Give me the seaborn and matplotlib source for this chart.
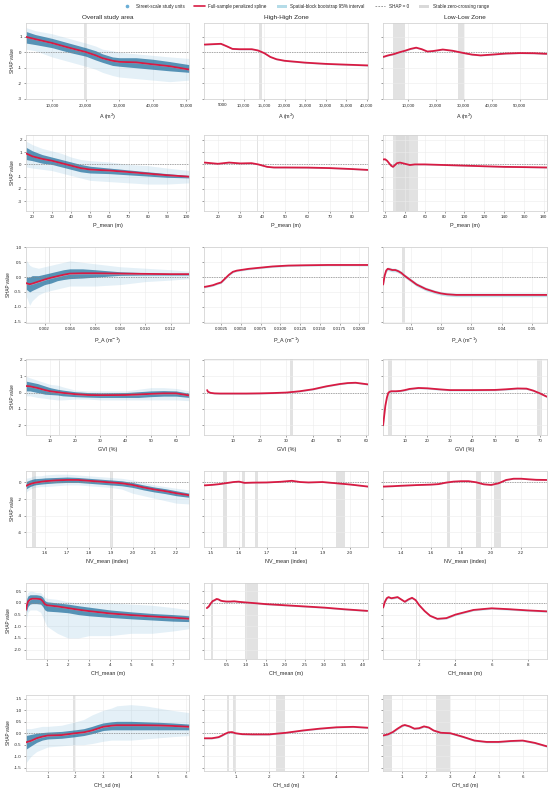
import seaborn as sns
import matplotlib.pyplot as plt
from matplotlib.lines import Line2D
from matplotlib.patches import Patch

# column titles and x labels
zones = ["Overall study area", "High-High Zone", "Low-Low Zone"]
xlabels = ["A (m$^2$)", "P_mean (m)", "P_A (m$^{-1}$)", "GVI (%)",
           "NV_mean (index)", "CH_mean (m)", "CH_sd (m)"]

# ---------------- A ----------------
a_all_x = [2200, 5000, 10000, 15000, 20000, 23000, 25000, 28000, 30000, 35000, 40000, 45000, 50900]
a_all_y = [1.0, 0.85, 0.6, 0.3, 0.02, -0.2, -0.38, -0.55, -0.62, -0.65, -0.78, -0.9, -1.12]
a_cloud_lo = [0.2, 0.1, -0.3, -0.6, -0.9, -1.1, -1.3, -1.5, -1.6, -1.7, -1.8, -1.9, -1.8]
a_core_lo = [0.6, 0.5, 0.3, 0.0, -0.25, -0.5, -0.65, -0.85, -0.9, -1.0, -1.1, -1.2, -1.3]
a_core_hi = [1.35, 1.15, 0.9, 0.6, 0.3, 0.1, -0.1, -0.3, -0.35, -0.35, -0.45, -0.6, -0.8]
a_cloud_hi = [1.6, 1.4, 1.2, 0.9, 0.6, 0.4, 0.2, 0.1, 0.0, -0.1, -0.2, -0.3, -0.4]
a_hh_x = [500, 2000, 4500, 6000, 7300, 9000, 12000, 13500, 15000, 16500, 18000, 20000, 25000, 30000, 35000, 40250]
a_hh_y = [0.5, 0.52, 0.55, 0.38, 0.22, 0.2, 0.2, 0.12, -0.05, -0.3, -0.45, -0.55, -0.67, -0.75, -0.8, -0.85]
a_ll_x = [1200, 3000, 5000, 7000, 9000, 11000, 13000, 15000, 17000, 19000, 22500, 26000, 30000,
          33000, 36000, 40000, 45000, 50000, 55000, 59600]
a_ll_y = [-0.3, -0.2, -0.12, 0.0, 0.1, 0.22, 0.3, 0.2, 0.05, 0.08, 0.18, 0.1, -0.05,
          -0.15, -0.2, -0.15, -0.08, -0.05, -0.06, -0.1]

# ---------------- P_mean ----------------
p_all_x = [16.5, 20, 25, 30, 35, 40, 45, 50, 60, 70, 80, 90, 101.7]
p_all_y = [0.9, 0.65, 0.45, 0.3, 0.1, -0.1, -0.3, -0.42, -0.5, -0.62, -0.75, -0.88, -1.0]
p_cloud_lo = [-0.2, -0.3, -0.4, -0.5, -0.7, -0.9, -1.1, -1.3, -1.4, -1.5, -1.6, -1.6, -1.5]
p_core_lo = [0.4, 0.3, 0.1, 0.0, -0.2, -0.4, -0.6, -0.7, -0.75, -0.85, -0.95, -1.05, -1.1]
p_core_hi = [1.4, 1.1, 0.8, 0.6, 0.4, 0.2, 0.0, -0.15, -0.3, -0.45, -0.6, -0.75, -0.9]
p_cloud_hi = [1.9, 1.6, 1.3, 1.1, 0.9, 0.6, 0.4, 0.3, 0.2, 0.0, -0.1, -0.3, -0.5]
p_hh_x = [14, 17, 20, 25, 30, 35, 38, 40, 42, 45, 50, 60, 70, 80, 87]
p_hh_y = [0.15, 0.1, 0.05, 0.15, 0.08, 0.1, 0.0, -0.1, -0.2, -0.25, -0.25, -0.26, -0.3, -0.38, -0.45]
p_ll_x = [18, 20, 22, 24, 26, 28, 30, 32, 35, 40, 45, 50, 60, 80, 100, 120, 140, 160, 183]
p_ll_y = [0.4, 0.42, 0.3, 0.1, -0.1, -0.2, -0.05, 0.1, 0.15, 0.05, -0.05, 0.0, 0.0, -0.05,
          -0.1, -0.15, -0.2, -0.22, -0.25]

# ---------------- P_A ----------------
pa_all_x = [0.0005, 0.0008, 0.001, 0.0015, 0.002, 0.0025, 0.003, 0.0035, 0.004, 0.005,
            0.006, 0.008, 0.010, 0.012, 0.0135]
pa_all_y = [-0.2, -0.24, -0.22, -0.15, -0.08, -0.02, 0.03, 0.08, 0.12, 0.13, 0.13, 0.12, 0.11, 0.1, 0.1]
pa_cloud_lo = [-0.6, -0.95, -0.8, -0.6, -0.5, -0.45, -0.4, -0.35, -0.3, -0.3, -0.3, -0.25, -0.15, -0.1, -0.05]
pa_core_lo = [-0.4, -0.5, -0.45, -0.35, -0.25, -0.2, -0.12, -0.08, -0.05, -0.03, 0.0, 0.06, 0.07, 0.07, 0.07]
pa_core_hi = [0.0, 0.0, 0.05, 0.05, 0.1, 0.15, 0.2, 0.25, 0.28, 0.28, 0.25, 0.18, 0.15, 0.13, 0.13]
pa_cloud_hi = [0.6, 0.4, 0.35, 0.3, 0.35, 0.4, 0.45, 0.5, 0.55, 0.5, 0.45, 0.35, 0.3, 0.25, 0.2]
pa_hh_x = [0.0004, 0.001, 0.0015, 0.002, 0.0025, 0.003, 0.0035, 0.004, 0.0045, 0.005, 0.006,
           0.0075, 0.009, 0.011, 0.013, 0.016, 0.0211]
pa_hh_y = [-0.33, -0.3, -0.27, -0.22, -0.18, -0.05, 0.08, 0.18, 0.22, 0.24, 0.28, 0.32, 0.36,
           0.39, 0.4, 0.41, 0.41]
pa_ll_x = [0.001, 0.0015, 0.002, 0.0025, 0.003, 0.004, 0.005, 0.006, 0.007, 0.008, 0.01, 0.012,
           0.015, 0.018, 0.02, 0.022, 0.025, 0.03, 0.04, 0.0547]
pa_ll_y = [-0.25, 0.05, 0.22, 0.28, 0.27, 0.24, 0.24, 0.2, 0.14, 0.05, -0.1, -0.25, -0.4, -0.5,
           -0.55, -0.58, -0.6, -0.6, -0.6, -0.6]

# ---------------- GVI ----------------
g_all_x = [0.4, 2, 5, 8, 10, 13, 15, 20, 25, 30, 40, 45, 50, 55, 60, 65.3]
g_all_y = [0.4, 0.38, 0.28, 0.15, 0.08, 0.02, -0.02, -0.1, -0.15, -0.16, -0.15, -0.12, -0.08, -0.05, -0.05, -0.18]
g_cloud_lo = [-0.2, -0.2, -0.3, -0.35, -0.4, -0.45, -0.45, -0.4, -0.4, -0.45, -0.45, -0.45, -0.45, -0.45, -0.45, -0.5]
g_core_lo = [0.1, 0.1, 0.0, -0.1, -0.12, -0.15, -0.2, -0.25, -0.28, -0.3, -0.3, -0.3, -0.25, -0.22, -0.22, -0.3]
g_core_hi = [0.7, 0.65, 0.55, 0.4, 0.3, 0.2, 0.15, 0.05, 0.0, -0.02, 0.0, 0.05, 0.1, 0.12, 0.1, -0.05]
g_cloud_hi = [1.0, 0.9, 0.75, 0.6, 0.5, 0.45, 0.35, 0.15, 0.1, 0.1, 0.1, 0.2, 0.3, 0.3, 0.25, 0.1]
g_hh_x = [0.2, 0.5, 1.5, 3, 5, 10, 15, 20, 25, 30, 35, 40, 45, 50, 53, 56, 60.7]
g_hh_y = [0.15, 0.05, -0.02, -0.05, -0.06, -0.06, -0.06, -0.05, -0.03, 0.0, 0.08, 0.2, 0.38, 0.52, 0.58, 0.6, 0.5]
g_ll_x = [0.3, 0.8, 1.3, 2, 2.6, 3.2, 4, 6, 8, 10, 12, 16, 20, 25, 30, 40, 50, 55, 60, 64, 67, 70, 73]
g_ll_y = [-2.0, -1.4, -0.8, -0.3, -0.02, 0.05, 0.08, 0.08, 0.1, 0.15, 0.22, 0.28, 0.26, 0.2, 0.15,
          0.15, 0.16, 0.2, 0.25, 0.24, 0.12, -0.05, -0.25]

# ---------------- NV_mean ----------------
n_all_x = [1.511, 1.53, 1.55, 1.58, 1.6, 1.65, 1.7, 1.75, 1.8, 1.85, 1.9, 1.95, 2.0, 2.05, 2.1, 2.15, 2.2, 2.261]
n_all_y = [-0.42, -0.2, -0.05, 0.08, 0.15, 0.25, 0.3, 0.3, 0.2, 0.1, 0.0, -0.1, -0.3, -0.6, -0.85, -1.05, -1.3, -1.55]
n_cloud_lo = [-1.2, -0.8, -0.6, -0.5, -0.5, -0.4, -0.3, -0.3, -0.4, -0.5, -0.6, -0.8, -1.3, -1.6, -1.9, -2.2, -2.5, -2.6]
n_core_lo = [-0.8, -0.5, -0.3, -0.2, -0.15, -0.05, 0.0, 0.0, -0.1, -0.2, -0.3, -0.4, -0.6, -0.9, -1.15, -1.35, -1.6, -1.8]
n_core_hi = [0.1, 0.3, 0.45, 0.5, 0.55, 0.6, 0.65, 0.6, 0.5, 0.4, 0.3, 0.2, 0.0, -0.3, -0.55, -0.75, -1.0, -1.3]
n_cloud_hi = [0.5, 0.6, 0.8, 0.8, 0.9, 1.0, 1.0, 0.9, 0.8, 0.7, 0.6, 0.5, 0.3, 0.0, -0.3, -0.5, -0.7, -0.9]
n_hh_x = [1.476, 1.5, 1.53, 1.55, 1.58, 1.6, 1.62, 1.65, 1.7, 1.75, 1.79, 1.82, 1.85, 1.9, 1.95, 2.0, 2.064]
n_hh_y = [-0.35, -0.3, -0.2, -0.1, 0.05, 0.1, -0.05, -0.02, 0.0, 0.08, 0.2, 0.05, 0.0, 0.05, -0.1, -0.25, -0.5]
n_ll_x = [1.281, 1.35, 1.4, 1.5, 1.6, 1.65, 1.7, 1.75, 1.8, 1.85, 1.9, 1.95, 2.0, 2.05, 2.1, 2.15,
          2.2, 2.25, 2.3, 2.37]
n_ll_y = [-0.5, -0.45, -0.4, -0.32, -0.26, -0.2, -0.02, 0.1, 0.15, 0.15, 0.02, -0.22, -0.3, -0.1,
          0.3, 0.45, 0.45, 0.38, 0.32, 0.3]

# ---------------- CH_mean ----------------
c_all_x = [0.0, 0.05, 0.1, 0.2, 0.3, 0.5, 0.7, 0.8, 0.9, 1.0, 1.5, 2, 2.5, 3, 4, 5, 6, 7, 7.78]
c_all_y = [-0.3, -0.1, 0.05, 0.15, 0.18, 0.18, 0.16, 0.08, -0.05, -0.1, -0.15, -0.22, -0.29, -0.35,
           -0.45, -0.52, -0.58, -0.63, -0.68]
c_cloud_lo = [-0.9, -0.6, -0.4, -0.3, -0.3, -0.3, -0.4, -0.6, -0.8, -1.0, -1.3, -1.5, -1.5, -1.4,
              -1.4, -1.3, -1.3, -1.2, -1.1]
c_core_lo = [-0.5, -0.3, -0.15, -0.05, -0.03, -0.03, -0.05, -0.15, -0.3, -0.35, -0.38, -0.42, -0.5,
             -0.55, -0.62, -0.68, -0.73, -0.78, -0.8]
c_core_hi = [0.0, 0.2, 0.3, 0.35, 0.35, 0.35, 0.32, 0.25, 0.1, 0.05, 0.0, -0.05, -0.12, -0.18,
             -0.3, -0.38, -0.45, -0.5, -0.55]
c_cloud_hi = [0.2, 0.35, 0.45, 0.5, 0.5, 0.45, 0.45, 0.35, 0.25, 0.2, 0.15, 0.05, 0.0, 0.0, 0.0,
              -0.05, -0.1, -0.2, -0.3]
c_hh_x = [0.0, 0.05, 0.1, 0.15, 0.2, 0.25, 0.3, 0.35, 0.4, 0.5, 0.6, 0.7, 0.8, 1.0, 1.3, 1.5, 2.0,
          2.5, 3.0, 3.5, 4.1]
c_hh_y = [-0.22, -0.15, -0.02, 0.08, 0.12, 0.17, 0.15, 0.1, 0.08, 0.06, 0.06, 0.07, 0.05, 0.02,
          -0.02, -0.05, -0.1, -0.15, -0.2, -0.27, -0.34]
c_ll_x = [0.0, 0.1, 0.2, 0.3, 0.45, 0.6, 0.8, 1.0, 1.2, 1.4, 1.6, 1.8, 2.0, 2.3, 2.6, 3.0, 3.5,
          4.0, 5.0, 6.0, 7.0, 8.0, 9.05]
c_ll_y = [-0.2, 0.05, 0.2, 0.25, 0.2, 0.22, 0.25, 0.15, 0.05, 0.15, 0.22, 0.12, -0.1, -0.35, -0.55,
          -0.68, -0.65, -0.5, -0.3, -0.23, -0.27, -0.32, -0.36]

# ---------------- CH_sd ----------------
s_all_x = [0.21, 0.4, 0.6, 0.8, 1.0, 1.5, 2.0, 2.3, 2.6, 2.8, 3.0, 3.3, 3.5, 4.0, 4.5, 5.0, 5.5, 6.12]
s_all_y = [-0.4, -0.33, -0.22, -0.15, -0.1, -0.08, 0.0, 0.04, 0.12, 0.2, 0.28, 0.33, 0.35, 0.35,
           0.35, 0.34, 0.32, 0.28]
s_cloud_lo = [-1.3, -1.0, -0.8, -0.7, -0.6, -0.55, -0.5, -0.5, -0.45, -0.4, -0.35, -0.3, -0.3,
              -0.3, -0.25, -0.2, -0.15, -0.1]
s_core_lo = [-0.7, -0.55, -0.4, -0.3, -0.25, -0.22, -0.15, -0.1, -0.02, 0.05, 0.12, 0.15, 0.15,
             0.15, 0.15, 0.15, 0.15, 0.15]
s_core_hi = [-0.1, -0.05, 0.0, 0.03, 0.05, 0.08, 0.15, 0.2, 0.3, 0.38, 0.45, 0.5, 0.52, 0.52, 0.5,
             0.48, 0.45, 0.4]
s_cloud_hi = [0.2, 0.2, 0.25, 0.3, 0.3, 0.35, 0.5, 0.6, 0.8, 0.9, 1.0, 1.1, 1.2, 1.25, 1.2, 1.1,
              1.0, 0.9]
s_hh_x = [0.08, 0.3, 0.5, 0.6, 0.7, 0.8, 0.9, 1.0, 1.2, 1.5, 2.0, 2.5, 3.0, 3.5, 4.0, 4.5, 4.94]
s_hh_y = [-0.22, -0.22, -0.17, -0.1, -0.02, 0.04, 0.05, 0.0, -0.04, -0.05, -0.05, 0.02, 0.12, 0.2,
          0.26, 0.28, 0.24]
s_ll_x = [0.2, 0.4, 0.6, 0.8, 1.0, 1.1, 1.3, 1.5, 1.7, 1.9, 2.1, 2.3, 2.6, 3.0, 3.5, 4.0, 4.5,
          5.0, 5.5, 6.0, 6.5, 7.0]
s_ll_y = [-0.1, -0.05, 0.05, 0.2, 0.33, 0.36, 0.3, 0.2, 0.22, 0.3, 0.25, 0.12, 0.02, 0.0, -0.15,
          -0.32, -0.38, -0.38, -0.34, -0.32, -0.42, -0.57]

# stable zero-crossing ranges, per row: [overall, HH, LL]
zero_ranges = [
    [[(19500, 20300)], [(13700, 14400)], [(4900, 9000), (28000, 30200)]],
    [[(36.8, 37.6)], [(37.3, 38.1)], [(27.5, 53.5), (30.5, 44.5)]],
    [[(0.00235, 0.00245)], [(0.00345, 0.00355)], [(0.0071, 0.0082)]],
    [[(13.4, 14.1)], [(31.3, 32.3)], [(2.6, 4.1), (68.5, 70.8)]],
    [[(1.541, 1.556), (1.897, 1.911)],
     [(1.544, 1.556), (1.612, 1.620), (1.656, 1.667), (1.95, 1.981)],
     [(1.708, 1.726), (1.898, 1.93), (2.022, 2.067)]],
    [[(0.84, 0.89)], [(0.10, 0.17), (0.97, 1.31)], [(1.84, 1.9)]],
    [[(1.93, 1.98)], [(0.74, 0.81), (0.93, 1.03), (2.2, 2.46)], [(0.24, 0.56), (2.39, 2.97)]],
]

# bootstrap interval half-widths, per row: [overall, HH, LL]
ci_half = [[0.03, 0.04, 0.04], [0.03, 0.04, 0.04], [0.02, 0.03, 0.06],
           [0.03, 0.04, 0.05], [0.04, 0.05, 0.05], [0.02, 0.03, 0.04], [0.02, 0.03, 0.04]]

# axis limits
xlims = [[(2200, 50900), (500, 40250), (1200, 59600)],
         [(16.5, 101.7), (14, 87), (18, 183)],
         [(0.0005, 0.0135), (0.0004, 0.0211), (0.001, 0.0547)],
         [(0.4, 65.3), (-0.8, 60.7), (0.3, 73)],
         [(1.511, 2.261), (1.476, 2.064), (1.281, 2.37)],
         [(0.0, 7.78), (-0.06, 4.12), (0.0, 9.05)],
         [(0.21, 6.12), (0.08, 4.94), (0.2, 7.0)]]
ylims = [(-3.03, 1.9), (-3.8, 2.4), (-1.55, 1.02), (-2.6, 2.06), (-7.8, 1.4), (-2.4, 0.86), (-1.65, 1.68)]

# ticks
xticks = [[[10000, 20000, 30000, 40000, 50000], [5000, 10000, 15000, 20000, 25000, 30000, 35000, 40000],
           [10000, 20000, 30000, 40000, 50000]],
          [[20, 30, 40, 50, 60, 70, 80, 90, 100], [20, 30, 40, 50, 60, 70, 80],
           [20, 40, 60, 80, 100, 120, 140, 160, 180]],
          [[0.002, 0.004, 0.006, 0.008, 0.010, 0.012],
           [0.0025, 0.005, 0.0075, 0.01, 0.0125, 0.015, 0.0175, 0.02],
           [0.01, 0.02, 0.03, 0.04, 0.05]],
          [[10, 20, 30, 40, 50, 60], [10, 20, 30, 40, 50, 60], [10, 20, 30, 40, 50, 60, 70]],
          [[1.6, 1.7, 1.8, 1.9, 2.0, 2.1, 2.2], [1.5, 1.6, 1.7, 1.8, 1.9, 2.0], [1.4, 1.6, 1.8, 2.0, 2.2]],
          [[1, 2, 3, 4, 5, 6, 7], [0.5, 1.0, 1.5, 2.0, 2.5, 3.0, 3.5, 4.0], [2, 4, 6, 8]],
          [[1, 2, 3, 4, 5, 6], [1, 2, 3, 4], [1, 2, 3, 4, 5, 6]]]
xfmts = [["big", "big", "big"], ["{:g}"] * 3, ["{:.3f}", "{:.4f}", "{:.2f}"], ["{:g}"] * 3,
         ["{:.1f}"] * 3, ["{:g}", "{:.1f}", "{:g}"], ["{:g}"] * 3]
yticks = [[-3, -2, -1, 0, 1], [-3, -2, -1, 0, 1, 2], [-1.5, -1.0, -0.5, 0.0, 0.5, 1.0],
          [-2, -1, 0, 1, 2], [-6, -4, -2, 0], [-2.0, -1.5, -1.0, -0.5, 0.0, 0.5],
          [-1.5, -1.0, -0.5, 0.0, 0.5, 1.0, 1.5]]
yfmts = ["{:g}", "{:g}", "{:.1f}", "{:g}", "{:g}", "{:.1f}", "{:.1f}"]

curves = [[(a_all_x, a_all_y), (a_hh_x, a_hh_y), (a_ll_x, a_ll_y)],
          [(p_all_x, p_all_y), (p_hh_x, p_hh_y), (p_ll_x, p_ll_y)],
          [(pa_all_x, pa_all_y), (pa_hh_x, pa_hh_y), (pa_ll_x, pa_ll_y)],
          [(g_all_x, g_all_y), (g_hh_x, g_hh_y), (g_ll_x, g_ll_y)],
          [(n_all_x, n_all_y), (n_hh_x, n_hh_y), (n_ll_x, n_ll_y)],
          [(c_all_x, c_all_y), (c_hh_x, c_hh_y), (c_ll_x, c_ll_y)],
          [(s_all_x, s_all_y), (s_hh_x, s_hh_y), (s_ll_x, s_ll_y)]]
clouds = [(a_cloud_lo, a_core_lo, a_core_hi, a_cloud_hi),
          (p_cloud_lo, p_core_lo, p_core_hi, p_cloud_hi),
          (pa_cloud_lo, pa_core_lo, pa_core_hi, pa_cloud_hi),
          (g_cloud_lo, g_core_lo, g_core_hi, g_cloud_hi),
          (n_cloud_lo, n_core_lo, n_core_hi, n_cloud_hi),
          (c_cloud_lo, c_core_lo, c_core_hi, c_cloud_hi),
          (s_cloud_lo, s_core_lo, s_core_hi, s_cloud_hi)]

# colours
red = "#d81b43"
pt_dark = "#1a6a9a"
pt_light = "#6aaed6"
ci_col = "#b5dce8"
zr_col = "#d9d9d9"

sns.set_theme(style="whitegrid")
plt.rcParams['font.family'] = ['Liberation Sans', 'DejaVu Sans']


def fmt_tick(v, f):
    if f == "big":
        return f"{v:,.0f}" if v >= 10000 else f"{v:.0f}"
    return f.format(v)


fig, axes = plt.subplots(7, 3, figsize=(5.5, 7.91), dpi=100, sharey='row')
fig.subplots_adjust(left=0.047, right=0.994, top=0.971, bottom=0.0253, wspace=0.092, hspace=0.47)

for r in range(7):
    for c in range(3):
        ax = axes[r, c]
        x, y = curves[r][c]
        for lo, hi in zero_ranges[r][c]:
            ax.axvspan(lo, hi, color=zr_col, alpha=0.75, lw=0, zorder=0.5)
        if c == 0:
            # point cloud of the street units: sparse fringe + dense core
            clo, klo, khi, chi = clouds[r]
            ax.fill_between(x, clo, chi, color=pt_light, alpha=0.18, lw=0, zorder=1)
            ax.fill_between(x, klo, khi, color=pt_dark, alpha=0.7, lw=0, zorder=1.2)
        ax.axhline(0, color="#8a8a8a", ls=(0, (2, 1.5)), lw=0.5, zorder=1.5)
        h = ci_half[r][c]
        ax.fill_between(x, [v - h for v in y], [v + h for v in y], color=ci_col, alpha=0.8, lw=0, zorder=2)
        sns.lineplot(x=x, y=y, ax=ax, color=red, lw=1.3, sort=False, estimator=None, zorder=3)

        ax.set_xlim(*xlims[r][c])
        ax.set_ylim(*ylims[r])
        ax.set_xticks(xticks[r][c])
        ax.set_xticklabels([fmt_tick(v, xfmts[r][c]) for v in xticks[r][c]])
        ax.set_yticks(yticks[r])
        if c == 0:
            ax.set_yticklabels([yfmts[r].format(v) for v in yticks[r]])
            ax.set_ylabel("SHAP value", fontsize=3.3, labelpad=2)
        else:
            ax.set_ylabel("")
        ax.set_xlabel(xlabels[r], fontsize=3.9, labelpad=3)
        ax.tick_params(axis='both', labelsize=3.2, length=1.5, width=0.4, pad=1.5,
                       color="#555555", bottom=True, left=True)
        ax.grid(True, color="#ececec", lw=0.4)
        for sp in ax.spines.values():
            sp.set_linewidth(0.6)
            sp.set_edgecolor("#d4d4d4")
        if r == 0:
            ax.set_title(zones[c], fontsize=4.6, pad=3)

handles = [Line2D([], [], marker='o', ls='', color=pt_light, ms=1.6),
           Line2D([], [], color=red, lw=1.2),
           Patch(facecolor=ci_col, edgecolor='none'),
           Line2D([], [], color="#8a8a8a", ls=(0, (2, 1.5)), lw=0.6),
           Patch(facecolor=zr_col, edgecolor='none')]
labels = ["Street-scale study units", "Full-sample penalized spline",
          "Spatial-block bootstrap 95% interval", "SHAP = 0", "Stable zero-crossing range"]
fig.legend(handles, labels, loc='upper center', bbox_to_anchor=(0.555, 1.0), ncol=5,
           frameon=False, fontsize=3.3, handlelength=2.2, handleheight=0.8, columnspacing=2.2,
           handletextpad=0.8)

fig.savefig("out.png", dpi=100)
